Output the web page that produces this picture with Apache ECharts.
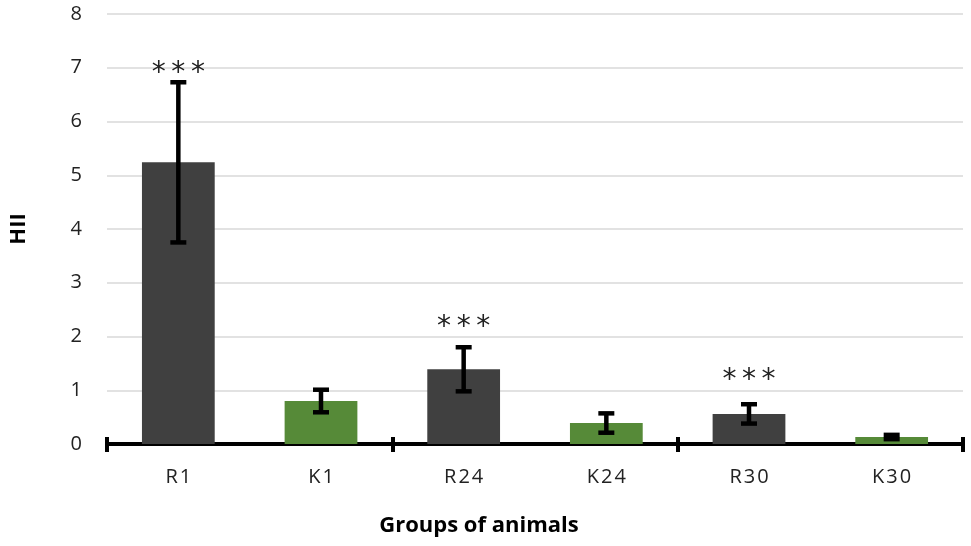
<!DOCTYPE html>
<html><head><meta charset="utf-8">
<script src="https://cdn.jsdelivr.net/npm/echarts@6/dist/echarts.min.js"></script>
<style>html,body{margin:0;padding:0;background:#fff}#c{width:971px;height:546px}</style>
</head><body><div id="c"></div>
<script>
const categories = ['R1','K1','R24','K24','R30','K30'];
const means = [5.24, 0.80, 1.39, 0.39, 0.56, 0.13];
const errors = [1.49, 0.21, 0.41, 0.18, 0.18, 0.04];
const barColors = ['#404040','#568a38','#404040','#568a38','#404040','#568a38'];
const signif = ['***','','***','','***',''];
const signifY = [7.0, null, 2.27, null, 1.28, null];
const yTicks = [0,1,2,3,4,5,6,7,8];
const xTitle = 'Groups of animals';
const yTitle = 'HII';

const font = '"Open Sans", "Liberation Sans", sans-serif';
const spaced = s => s.split('').join('\u200A');
const chart = echarts.init(document.getElementById('c'));
chart.setOption({
  animation:false,
  title:{text:xTitle,left:474,top:510,textAlign:'center',
    textStyle:{fontFamily:font,fontSize:22,fontWeight:'bold',color:'#000'}},
  grid:{left:107,right:8,top:14,bottom:102,containLabel:false,outerBoundsMode:'none'},
  xAxis:[{
    type:'category', data:categories,
    axisLine:{lineStyle:{color:'#000',width:4}},
    axisTick:{show:true,interval:1,length:8,lineStyle:{color:'#000',width:4}},
    axisLabel:{fontFamily:font,fontSize:20,color:'#222',margin:23,formatter:v=>spaced(v)}
  },{
    type:'category', data:categories, position:'bottom',
    axisLine:{show:false},
    axisTick:{show:true,inside:true,interval:1,length:7,lineStyle:{color:'#000',width:4}},
    axisLabel:{show:false}
  }],
  yAxis:{
    type:'value', min:0, max:8, interval:1,
    name:yTitle, nameLocation:'middle', nameGap:77, nameRotate:90,
    nameTextStyle:{fontFamily:font,fontSize:22,fontWeight:'bold',color:'#000'},
    axisLine:{show:false}, axisTick:{show:false},
    axisLabel:{fontFamily:font,fontSize:20,color:'#222',margin:25,
      formatter:v=>yTicks.includes(v)?String(v):''},
    splitLine:{lineStyle:{color:'#d9d9d9',width:1.5}}
  },
  series:[{
    type:'bar', barWidth:'51%', z:2,
    data:means.map((v,i)=>({value:v,itemStyle:{color:barColors[i]}}))
  },{
    type:'custom', z:5,
    data:means.map((v,i)=>[i,v-errors[i],v+errors[i]]),
    renderItem:(params,api)=>{
      const x=api.value(0);
      const lo=api.coord([x,api.value(1)]);
      const hi=api.coord([x,api.value(2)]);
      const hw=8;
      const st={stroke:'#000',lineWidth:4.5};
      return {type:'group',children:[
        {type:'line',shape:{x1:lo[0],y1:lo[1],x2:hi[0],y2:hi[1]},style:st},
        {type:'line',shape:{x1:lo[0]-hw,y1:lo[1],x2:lo[0]+hw,y2:lo[1]},style:st},
        {type:'line',shape:{x1:hi[0]-hw,y1:hi[1],x2:hi[0]+hw,y2:hi[1]},style:st}
      ]};
    }
  },{
    type:'custom', z:6,
    data:signifY.map((y,i)=>[i,y,signif[i]]).filter(d=>d[1]!==null),
    renderItem:(params,api)=>{
      const p=api.coord([api.value(0),api.value(1)]);
      return {type:'text',x:p[0],y:p[1]+6,style:{text:String(api.value(2)).split('').join('\u2009'),
        fontFamily:'"DejaVu Sans", sans-serif',fontSize:28,fill:'#222',
        align:'center',verticalAlign:'middle'}};
    }
  }]
});
</script></body></html>
